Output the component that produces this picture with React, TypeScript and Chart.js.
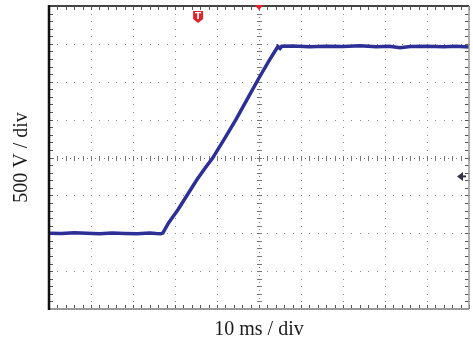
import React, { useEffect, useRef } from "react";
import { Chart, registerables } from "chart.js";

Chart.register(...registerables);

// Time axis (ms), 10 ms/div, 10 divisions
const xRangeMs = [-50, 50];
// Voltage axis (V), 500 V/div, 8 divisions
const yRangeV = [-2000, 2000];
const xDivMs = 10;
const yDivV = 500;

// Waveform samples
const timeMs = [
  -50, -47, -44, -41, -38, -35, -32, -29, -26, -24.5, -23.4, -22.9,
  -21.5, -19.3, -17.2, -14.8, -12.9, -11.0, -8.2, -5.5, -2.6, 0.2, 2.4, 4.5,
  5.0, 5.4, 8, 12, 16, 20, 24, 28, 31, 33.6, 36, 40, 44, 47, 50,
];
const volts = [
  -1000, -1003, -995, -1000, -1006, -998, -1003, -1008, -998, -1003, -1005, -998,
  -860, -690, -505, -295, -145, -5, 250, 500, 790, 1069, 1280, 1465,
  1440, 1468, 1472, 1462, 1470, 1466, 1474, 1462, 1468, 1450, 1466, 1470, 1462, 1468, 1460,
];

// Scope markers
const triggerTimeMs = -14.5;
const centerTimeMs = 0;
const triggerLevelV = -250;

const xTitle = "10 ms / div";
const yTitle = "500 V / div";

const serif = '"Liberation Serif", "Times New Roman", serif';

const scopePlugin = {
  id: "scope",
  beforeDatasetsDraw(chart: any) {
    const { ctx, chartArea: a, scales } = chart;
    const xs = scales.x;
    const ys = scales.y;
    ctx.save();
    ctx.fillStyle = "#8a8a8a";
    // vertical dotted major lines
    for (let t = xRangeMs[0] + xDivMs; t < xRangeMs[1]; t += xDivMs) {
      const px = Math.round(xs.getPixelForValue(t));
      if (t === 0) continue;
      for (let v = yRangeV[0]; v <= yRangeV[1]; v += yDivV / 5) {
        const py = ys.getPixelForValue(v);
        ctx.fillRect(px, Math.round(py), 1, 1);
      }
    }
    // horizontal dotted major lines
    for (let v = yRangeV[0] + yDivV; v < yRangeV[1]; v += yDivV) {
      const py = Math.round(ys.getPixelForValue(v));
      if (v === 0) continue;
      for (let t = xRangeMs[0]; t <= xRangeMs[1]; t += xDivMs / 5) {
        const px = xs.getPixelForValue(t);
        ctx.fillRect(Math.round(px), py, 1, 1);
      }
    }
    // center cross with denser dots and minor ticks
    const cx = Math.round(xs.getPixelForValue(0));
    const cy = Math.round(ys.getPixelForValue(0));
    ctx.fillStyle = "#777";
    for (let t = xRangeMs[0]; t <= xRangeMs[1]; t += xDivMs / 10) {
      const px = Math.round(xs.getPixelForValue(t));
      ctx.fillRect(px, cy, 1, 1);
    }
    for (let t = xRangeMs[0]; t <= xRangeMs[1]; t += xDivMs / 5) {
      const px = Math.round(xs.getPixelForValue(t));
      ctx.fillRect(px, cy - 2, 1, 5);
    }
    for (let v = yRangeV[0]; v <= yRangeV[1]; v += yDivV / 10) {
      const py = Math.round(ys.getPixelForValue(v));
      ctx.fillRect(cx, py, 1, 1);
    }
    for (let v = yRangeV[0]; v <= yRangeV[1]; v += yDivV / 5) {
      const py = Math.round(ys.getPixelForValue(v));
      ctx.fillRect(cx - 2, py, 5, 1);
    }
    // border ticks
    ctx.fillStyle = "#555";
    for (let t = xRangeMs[0]; t <= xRangeMs[1]; t += xDivMs / 5) {
      const px = Math.round(xs.getPixelForValue(t));
      ctx.fillRect(px, a.top, 1, 4);
      ctx.fillRect(px, a.bottom - 4, 1, 4);
    }
    for (let v = yRangeV[0]; v <= yRangeV[1]; v += yDivV / 5) {
      const py = Math.round(ys.getPixelForValue(v));
      ctx.fillRect(a.left, py, 4, 1);
      ctx.fillRect(a.right - 4, py, 4, 1);
    }
    ctx.restore();
  },
  afterDatasetsDraw(chart: any) {
    const { ctx, chartArea: a, scales } = chart;
    const xs = scales.x;
    const ys = scales.y;
    ctx.save();
    // borders
    ctx.strokeStyle = "#444";
    ctx.lineWidth = 2;
    ctx.beginPath();
    ctx.moveTo(a.left, a.top);
    ctx.lineTo(a.right, a.top);
    ctx.stroke();
    ctx.strokeStyle = "#999";
    ctx.lineWidth = 2;
    ctx.beginPath();
    ctx.moveTo(a.left, a.bottom);
    ctx.lineTo(a.right, a.bottom);
    ctx.stroke();
    ctx.lineWidth = 1.5;
    ctx.beginPath();
    ctx.moveTo(a.right, a.top);
    ctx.lineTo(a.right, a.bottom);
    ctx.stroke();
    ctx.strokeStyle = "#111";
    ctx.lineWidth = 2.5;
    ctx.beginPath();
    ctx.moveTo(a.left, a.top - 1);
    ctx.lineTo(a.left, a.bottom + 1);
    ctx.stroke();

    // trigger position "T" marker
    const tx = xs.getPixelForValue(triggerTimeMs);
    const ty = a.top + 5;
    ctx.fillStyle = "#e3232b";
    ctx.beginPath();
    ctx.moveTo(tx - 5, ty);
    ctx.lineTo(tx + 5, ty);
    ctx.lineTo(tx + 5, ty + 8);
    ctx.lineTo(tx, ty + 12);
    ctx.lineTo(tx - 5, ty + 8);
    ctx.closePath();
    ctx.fill();
    ctx.fillStyle = "#fff";
    ctx.font = "bold 9px 'DejaVu Sans', sans-serif";
    ctx.textAlign = "center";
    ctx.textBaseline = "middle";
    ctx.fillText("T", tx, ty + 5.5);

    // center time marker (red down triangle)
    const mx = xs.getPixelForValue(centerTimeMs);
    ctx.fillStyle = "#e3232b";
    ctx.beginPath();
    ctx.moveTo(mx - 4.5, a.top - 1);
    ctx.lineTo(mx + 4.5, a.top - 1);
    ctx.lineTo(mx, a.top + 4);
    ctx.closePath();
    ctx.fill();

    // trigger level arrow on right
    const ly = ys.getPixelForValue(triggerLevelV);
    const lx = a.right - 12;
    ctx.fillStyle = "#333345";
    ctx.beginPath();
    ctx.moveTo(lx, ly);
    ctx.lineTo(lx + 6, ly - 4.5);
    ctx.lineTo(lx + 6, ly + 4.5);
    ctx.closePath();
    ctx.fill();
    ctx.fillRect(lx + 6, ly - 1, 3, 2);
    ctx.restore();
  },
};

export default function App() {
  const ref = useRef<HTMLCanvasElement | null>(null);
  useEffect(() => {
    if (!ref.current) return;
    const chart = new Chart(ref.current, {
      type: "line",
      data: {
        datasets: [
          {
            data: timeMs.map((t, i) => ({ x: t, y: volts[i] })),
            borderColor: "#2b2f96",
            borderWidth: 3.5,
            pointRadius: 0,
            tension: 0,
            fill: false,
          },
        ],
      },
      options: {
        animation: false,
        responsive: true,
        maintainAspectRatio: false,
        layout: { padding: { top: 6, right: 4, left: 0, bottom: 0 } },
        plugins: { legend: { display: false }, tooltip: { enabled: false } },
        scales: {
          x: {
            type: "linear",
            min: xRangeMs[0],
            max: xRangeMs[1],
            grid: { display: false },
            border: { display: false },
            ticks: { display: false },
            title: {
              display: true,
              text: xTitle,
              color: "#1a1a1a",
              font: { family: serif, size: 20 },
              padding: { top: 0, bottom: 2 },
            },
            afterFit: (s: any) => {
              s.height = 35;
            },
          },
          y: {
            type: "linear",
            min: yRangeV[0],
            max: yRangeV[1],
            grid: { display: false },
            border: { display: false },
            ticks: { display: false },
            title: {
              display: true,
              text: yTitle,
              color: "#1a1a1a",
              font: { family: serif, size: 20 },
              padding: { top: 10, bottom: 0 },
            },
            afterFit: (s: any) => {
              s.width = 49;
            },
          },
        },
      },
      plugins: [scopePlugin],
    });
    return () => chart.destroy();
  }, []);
  return (
    <div style={{ position: "fixed", left: 0, top: 0, width: 473, height: 344, background: "#fff" }}>
      <canvas ref={ref} />
    </div>
  );
}
